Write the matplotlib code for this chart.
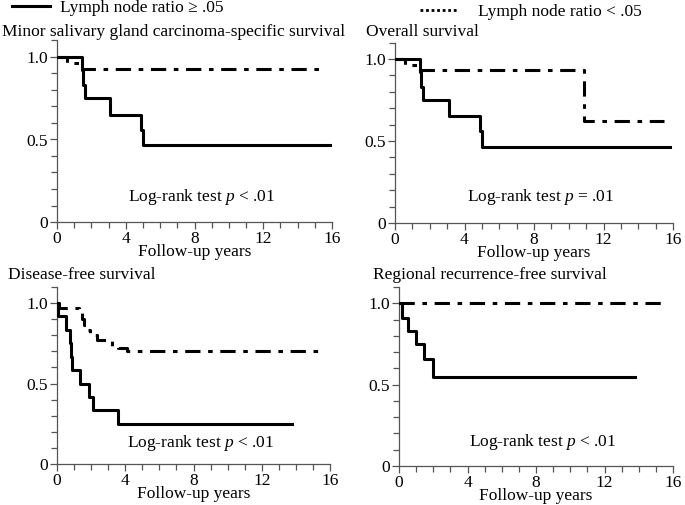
import matplotlib
matplotlib.use("Agg")
import matplotlib.pyplot as plt
from matplotlib.lines import Line2D
from matplotlib.ticker import MultipleLocator

plt.rcParams['font.family'] = ['Liberation Serif', 'DejaVu Serif']
plt.rcParams['font.size'] = 12.5
plt.rcParams['mathtext.fontset'] = 'custom'
plt.rcParams['mathtext.rm'] = 'Liberation Serif'
plt.rcParams['mathtext.it'] = 'Liberation Serif:italic'

# Kaplan-Meier step data (years, survival)
# lymph node ratio >= .05 (solid)
css_pos_t = [0, 1.45, 1.5, 1.6, 3.1, 4.9, 5.0]
css_pos_s = [1.0, 0.92, 0.83, 0.75, 0.65, 0.56, 0.465]
css_pos_end = 15.9
os_pos_t = [0, 1.45, 1.5, 1.6, 3.1, 4.9, 5.0]
os_pos_s = [1.0, 0.92, 0.83, 0.75, 0.65, 0.56, 0.465]
os_pos_end = 15.8
dfs_pos_t = [0, 0.07, 0.5, 0.75, 0.8, 0.9, 1.35, 1.9, 2.1, 3.6]
dfs_pos_s = [1.0, 0.917, 0.833, 0.75, 0.667, 0.583, 0.5, 0.417, 0.333, 0.25]
dfs_pos_end = 13.8
rrfs_pos_t = [0, 0.16, 0.52, 1.0, 1.46, 2.0]
rrfs_pos_s = [1.0, 0.91, 0.83, 0.75, 0.66, 0.55]
rrfs_pos_end = 13.8

# lymph node ratio < .05 (dashed)
css_neg_t = [0, 0.6, 1.45]
css_neg_s = [1.0, 0.965, 0.93]
css_neg_end = 15.6
os_neg_t = [0, 0.6, 1.45, 10.85]
os_neg_s = [1.0, 0.965, 0.93, 0.62]
os_neg_end = 15.5
dfs_neg_t = [0, 0.1, 1.3, 1.45, 1.6, 1.75, 1.95, 2.35, 3.2, 3.6, 4.1]
dfs_neg_s = [1.0, 0.97, 0.935, 0.90, 0.865, 0.83, 0.80, 0.77, 0.735, 0.72, 0.70]
dfs_neg_end = 15.5
rrfs_neg_t = [0]
rrfs_neg_s = [1.0]
rrfs_neg_end = 15.5

titles = ["Minor salivary gland carcinoma-specific survival", "Overall survival",
          "Disease-free survival", "Regional recurrence-free survival"]
pvals = [r"Log-rank test $p$ < .01", r"Log-rank test $p$ = .01",
         r"Log-rank test $p$ < .01", r"Log-rank test $p$ < .01"]

W, H = 685, 505
fig = plt.figure(figsize=(W / 100, H / 100), dpi=100)

# axes boxes in pixels: left, right, y of 0, px per unit
boxes = [(57, 332, 222, 165), (395, 673, 223, 164),
         (57, 330, 464, 161), (399, 673, 466, 162.7)]
title_pos = [(2, 32), (366, 32), (8, 275), (373, 275)]
ptext_y = [0.15, 0.158, 0.13, 0.147]

data = [(css_pos_t, css_pos_s, css_pos_end, css_neg_t, css_neg_s, css_neg_end),
        (os_pos_t, os_pos_s, os_pos_end, os_neg_t, os_neg_s, os_neg_end),
        (dfs_pos_t, dfs_pos_s, dfs_pos_end, dfs_neg_t, dfs_neg_s, dfs_neg_end),
        (rrfs_pos_t, rrfs_pos_s, rrfs_pos_end, rrfs_neg_t, rrfs_neg_s, rrfs_neg_end)]

axc = '#555555'
dash = (0, (5, 2.5, 1.5, 2.5))


def km(ax, t, s, end, **kw):
    ax.step(list(t) + [end], list(s) + [s[-1]], where='post', **kw)


for i in range(4):
    l, r, y0, ppu = boxes[i]
    h = ppu * 1.1
    ax = fig.add_axes([l / W, 1 - y0 / H, (r - l) / W, h / H])
    pt, ps, pe, nt, ns, ne = data[i]
    km(ax, nt, ns, ne, color='black', lw=2.2, linestyle=dash, zorder=3)
    km(ax, pt, ps, pe, color='black', lw=2.2, zorder=4)
    ax.set_xlim(0, 16)
    ax.set_ylim(0, 1.1)
    for sp in ['top', 'right']:
        ax.spines[sp].set_visible(False)
    for sp in ['left', 'bottom']:
        ax.spines[sp].set_color(axc)
        ax.spines[sp].set_linewidth(0.9)
    ax.xaxis.set_major_locator(MultipleLocator(4))
    ax.xaxis.set_minor_locator(MultipleLocator(1))
    ax.set_yticks([0, 0.5, 1.0])
    ax.set_yticklabels(['0', '0.5', '1.0'])
    ax.yaxis.set_minor_locator(MultipleLocator(0.1))
    ax.tick_params(which='both', direction='out', color=axc, width=0.9, labelsize=12.5)
    ax.tick_params(which='major', length=5, pad=1.5)
    ax.tick_params(which='minor', length=4)
    ax.set_xlabel("Follow-up years", fontsize=12.5, labelpad=-2.5)
    ax.text(8.4, ptext_y[i], pvals[i], ha='center', va='center', fontsize=12.5)
    fig.text(title_pos[i][0] / W, 1 - title_pos[i][1] / H, titles[i],
             ha='left', va='center', fontsize=12.5)

h1 = Line2D([], [], color='black', lw=2.2)
h2 = Line2D([], [], color='black', lw=2, linestyle=(0, (1, 1)))
fig.legend([h1], ["Lymph node ratio \u2265 .05"], loc='center left',
           bbox_to_anchor=(12 / W, 1 - 7.5 / H), frameon=False, borderpad=0,
           borderaxespad=0, handlelength=2.2, handletextpad=0.57, fontsize=12.5)
fig.legend([h2], ["Lymph node ratio < .05"], loc='center left',
           bbox_to_anchor=(420 / W, 1 - 12 / H), frameon=False, borderpad=0,
           borderaxespad=0, handlelength=2.2, handletextpad=1.15, fontsize=12.5)

fig.savefig("out.png", dpi=100)
